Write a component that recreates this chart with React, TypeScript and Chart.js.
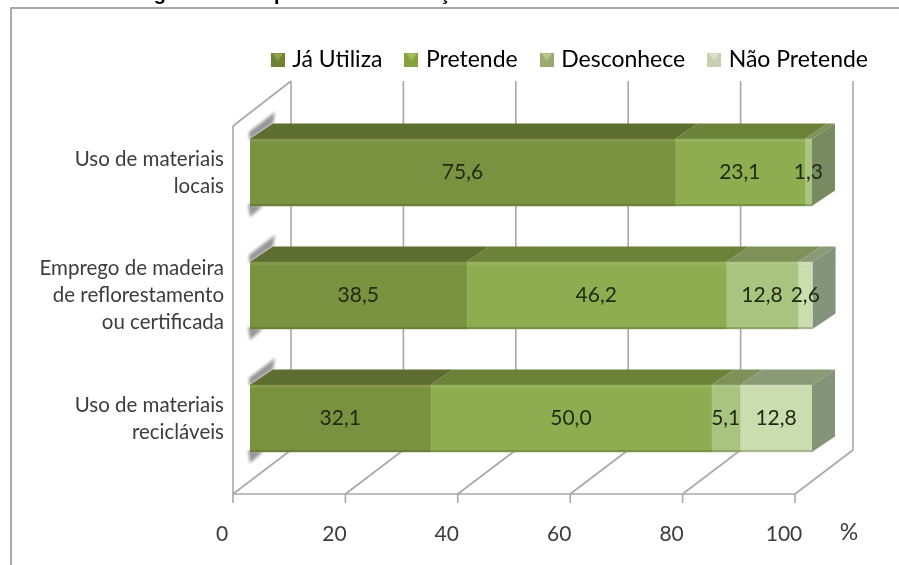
import React, { useEffect, useRef } from "react";
import { Chart, registerables } from "chart.js";

Chart.register(...registerables);

const TITLE = "Figura 5 – Frequência de cada ação relacionada à dimensão Materiais";
const UNIT = "%";
const categories = [
  ["Uso de materiais", "locais"],
  ["Emprego de madeira", "de reflorestamento", "ou certificada"],
  ["Uso de materiais", "recicláveis"],
];
const seriesNames = ["Já Utiliza", "Pretende", "Desconhece", "Não Pretende"];
const jaUtiliza = [75.6, 38.5, 32.1];
const pretende = [23.1, 46.2, 50.0];
const desconhece = [1.3, 12.8, 5.1];
const naoPretende = [0, 2.6, 12.8];
const seriesValues = [jaUtiliza, pretende, desconhece, naoPretende];

const frontColors = ["#7a913f", "#8eac50", "#a9c47f", "#cbdcae"];
const topColors = ["#5e6d30", "#6b8238", "#7f9158", "#8a9a76"];
const sideColors = ["#6f7f47", "#6f7f47", "#778a62", "#84947a"];
const legendDark = ["#6f8233", "#86a23c", "#98aa72", "#c6cfae"];
const legendLight = ["#98ad5c", "#aec86a", "#c2d09e", "#e3e8d4"];

const LABEL_FONT = "Lato";

// Depth of the bar prisms and of the surrounding 3D box, in pixels.
const BAR_DX = 23;
const BAR_DY = 15.5;
const BOX_FRONT_DX = -17;
const BOX_BACK_DX = 41;
const FLOOR_FRONT_DY = 14;
const FLOOR_BACK_DY = -30;
const WALL_TOP_DY = -30;

const fmt = (v: number) => v.toFixed(1).replace(".", ",");

// Small bevelled legend swatch.
function makeSwatch(i: number) {
  const c = document.createElement("canvas");
  c.width = 14;
  c.height = 14;
  const g = c.getContext("2d") as CanvasRenderingContext2D;
  g.fillStyle = legendDark[i];
  g.fillRect(0, 0, 14, 14);
  const grad = g.createLinearGradient(0, 0, 0, 14);
  grad.addColorStop(0, legendLight[i]);
  grad.addColorStop(1, legendDark[i]);
  g.fillStyle = grad;
  g.beginPath();
  g.moveTo(2, 1);
  g.lineTo(12, 1);
  g.lineTo(7, 9);
  g.closePath();
  g.fill();
  return c;
}

const backdrop = {
  id: "backdrop",
  beforeDraw(chart: any) {
    const { ctx } = chart;
    ctx.save();
    ctx.fillStyle = "#ffffff";
    ctx.fillRect(0, 0, chart.width, chart.height);
    ctx.strokeStyle = "#a9a9a9";
    ctx.lineWidth = 2;
    ctx.strokeRect(11, 8, chart.width + 20, chart.height + 20);
    ctx.fillStyle = "#000000";
    ctx.font = "bold 20px 'Liberation Sans'";
    ctx.textBaseline = "alphabetic";
    ctx.textAlign = "left";
    ctx.fillText(TITLE, 136, 0);
    ctx.restore();
  },
};

// Moves the legend into the band above the box, clear of the plot width.
const legendPlacement = {
  id: "legendPlacement",
  afterLayout(chart: any) {
    const l = chart.legend;
    const h = l.bottom - l.top;
    l.left = 0;
    l.right = 894;
    l.top = 22;
    l.bottom = 22 + h;
  },
};

const box3d = {
  id: "box3d",
  beforeDatasetsDraw(chart: any) {
    const { ctx, chartArea, scales } = chart;
    const x = scales.x;
    const floorFront = chartArea.bottom + FLOOR_FRONT_DY;
    const floorBack = chartArea.bottom + FLOOR_BACK_DY;
    const wallTop = chartArea.top + WALL_TOP_DY;
    const line = (a: number, b: number, c: number, d: number) => {
      ctx.beginPath();
      ctx.moveTo(a, b);
      ctx.lineTo(c, d);
      ctx.stroke();
    };
    ctx.save();
    ctx.lineWidth = 1.6;
    ctx.strokeStyle = "#a8a8a8";
    x.ticks.forEach((t: any) => {
      const px = x.getPixelForValue(t.value);
      line(px + BOX_BACK_DX, wallTop, px + BOX_BACK_DX, floorBack);
      line(px + BOX_BACK_DX, floorBack, px + BOX_FRONT_DX, floorFront);
      line(px + BOX_FRONT_DX, floorFront, px + BOX_FRONT_DX, floorFront + 9);
    });
    const p0 = x.getPixelForValue(0);
    const p100 = x.getPixelForValue(100);
    line(p0 + BOX_FRONT_DX, floorFront, p100 + BOX_FRONT_DX, floorFront);
    line(p0 + BOX_FRONT_DX, floorFront, p0 + BOX_FRONT_DX, wallTop + 45);
    line(p0 + BOX_FRONT_DX, wallTop + 45, p0 + BOX_BACK_DX, wallTop);

    // Soft shadow cast along the near edge of each bar.
    const bars = chart.getDatasetMeta(0).data;
    bars.forEach((b: any) => {
      const top = b.y - b.height / 2;
      const bottom = b.y + b.height / 2;
      ctx.save();
      ctx.filter = "blur(1.5px)";
      ctx.fillStyle = "rgba(125,125,125,0.8)";
      ctx.beginPath();
      ctx.moveTo(b.base - 1, top + 1);
      ctx.lineTo(b.base + BAR_DX, top - BAR_DY);
      ctx.lineTo(b.base + BAR_DX + 2, top - 27);
      ctx.lineTo(b.base - 1, top - 7);
      ctx.closePath();
      ctx.fill();
      ctx.beginPath();
      ctx.moveTo(b.base - 2, bottom - 2);
      ctx.lineTo(b.base + 13, bottom);
      ctx.lineTo(b.base, bottom + 11);
      ctx.closePath();
      ctx.fill();
      ctx.restore();
    });

    // Top faces, then the end cap of each stack.
    chart.data.datasets.forEach((_: any, di: number) => {
      chart.getDatasetMeta(di).data.forEach((b: any) => {
        const top = b.y - b.height / 2;
        if (b.x - b.base < 0.01) return;
        ctx.fillStyle = topColors[di];
        ctx.beginPath();
        ctx.moveTo(b.base, top);
        ctx.lineTo(b.x, top);
        ctx.lineTo(b.x + BAR_DX, top - BAR_DY);
        ctx.lineTo(b.base + BAR_DX, top - BAR_DY);
        ctx.closePath();
        ctx.fill();
      });
    });
    categories.forEach((_, ci) => {
      let last = 0;
      seriesValues.forEach((vals, di) => {
        if (vals[ci] > 0) last = di;
      });
      const b = chart.getDatasetMeta(last).data[ci];
      const top = b.y - b.height / 2;
      const bottom = b.y + b.height / 2;
      ctx.fillStyle = sideColors[last];
      ctx.beginPath();
      ctx.moveTo(b.x, top);
      ctx.lineTo(b.x + BAR_DX, top - BAR_DY);
      ctx.lineTo(b.x + BAR_DX, bottom - BAR_DY);
      ctx.lineTo(b.x, bottom);
      ctx.closePath();
      ctx.fill();
    });
    ctx.restore();
  },
  afterDatasetsDraw(chart: any) {
    const { ctx } = chart;
    ctx.save();
    // Bevel on the front faces, then the value labels.
    chart.data.datasets.forEach((_: any, di: number) => {
      chart.getDatasetMeta(di).data.forEach((b: any) => {
        const top = b.y - b.height / 2;
        const bottom = b.y + b.height / 2;
        const w = b.x - b.base;
        if (w < 0.01) return;
        ctx.fillStyle = "rgba(255,255,255,0.08)";
        ctx.fillRect(b.base, top, w, 3);
        ctx.fillStyle = "rgba(70,80,50,0.28)";
        ctx.fillRect(b.base, bottom - 2, w, 2);
      });
    });
    ctx.fillStyle = "#1e2a14";
    ctx.font = `21px ${LABEL_FONT}`;
    ctx.textAlign = "center";
    ctx.textBaseline = "middle";
    seriesValues.forEach((vals, di) => {
      chart.getDatasetMeta(di).data.forEach((b: any, ci: number) => {
        if (vals[ci] > 0) ctx.fillText(fmt(vals[ci]), (b.base + b.x) / 2, b.y);
      });
    });
    ctx.fillStyle = "#3c3c3c";
    ctx.font = `23px ${LABEL_FONT}`;
    ctx.fillText(UNIT, 849, 533);
    ctx.restore();
  },
};

export default function App() {
  const ref = useRef<HTMLCanvasElement | null>(null);
  useEffect(() => {
    const swatches = seriesNames.map((_, i) => makeSwatch(i));
    const chart = new Chart(ref.current as HTMLCanvasElement, {
      type: "bar",
      plugins: [backdrop, legendPlacement, box3d],
      data: {
        labels: categories as any,
        datasets: seriesNames.map((name, i) => ({
          label: name,
          data: seriesValues[i],
          backgroundColor: frontColors[i],
          borderWidth: 0,
          barThickness: 67,
        })),
      },
      options: {
        indexAxis: "y",
        responsive: false,
        animation: false,
        layout: { padding: { top: 52, right: 87, left: 0, bottom: 0 } },
        plugins: {
          title: { display: false },
          tooltip: { enabled: false },
          legend: {
            position: "top",
            align: "end",
            labels: {
              usePointStyle: true,
              pointStyleWidth: 6,
              boxHeight: 14,
              padding: 26,
              color: "#3c3c3c",
              font: { family: LABEL_FONT, size: 23 },
              generateLabels: () =>
                seriesNames.map((text, i) => ({
                  text,
                  pointStyle: swatches[i],
                  fillStyle: frontColors[i],
                  strokeStyle: "transparent",
                  lineWidth: 0,
                  datasetIndex: i,
                })),
            },
          },
        },
        scales: {
          x: {
            stacked: true,
            min: 0,
            max: 100,
            grid: { display: false },
            border: { display: false },
            afterFit: (s: any) => {
              s.height = 85;
            },
            afterBuildTicks: (s: any) => {
              s.ticks = [0, 20, 40, 60, 80, 100].map((value) => ({ value }));
            },
            ticks: {
              maxRotation: 0,
              padding: 34,
              labelOffset: -28,
              color: "#3c3c3c",
              font: { family: LABEL_FONT, size: 21 },
            },
          },
          y: {
            stacked: true,
            grid: { display: false },
            border: { display: false },
            afterFit: (s: any) => {
              s.width = 250;
            },
            ticks: {
              padding: 18,
              color: "#3c3c3c",
              font: { family: LABEL_FONT, size: 20.5, lineHeight: 1.32 },
            },
          },
        },
      } as any,
    });
    return () => chart.destroy();
  }, []);
  return (
    <div style={{ position: "absolute", left: 0, top: 0, width: 899, height: 565 }}>
      <canvas ref={ref} width={899} height={565} style={{ display: "block" }} />
    </div>
  );
}
